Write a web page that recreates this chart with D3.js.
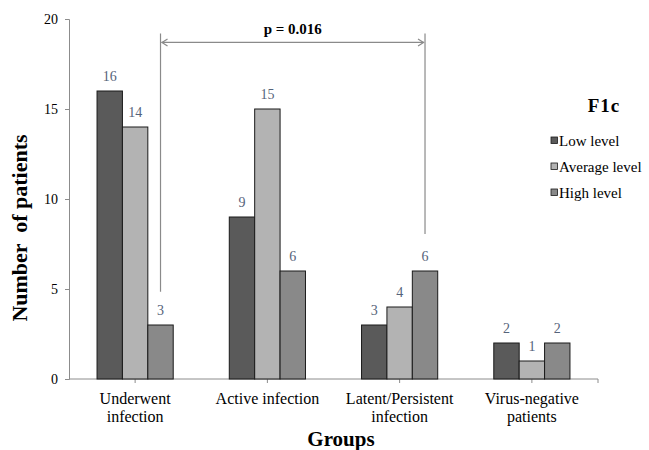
<!DOCTYPE html>
<html>
<head>
<meta charset="utf-8">
<script src="https://cdn.jsdelivr.net/npm/d3@7"></script>
<style>
  html, body { margin: 0; padding: 0; background: #fff; }
  svg { display: block; }
  text { font-family: 'Liberation Serif', 'Tinos', 'DejaVu Serif', serif; }
</style>
</head>
<body>
<svg id="chart" width="649" height="450"></svg>
<script>
// ---- data ----
const categories = [["Underwent", "infection"], ["Active infection"], ["Latent/Persistent", "infection"], ["Virus-negative", "patients"]];
const seriesNames = ["Low level", "Average level", "High level"];
const lowLevel = [16, 9, 3, 2];
const averageLevel = [14, 15, 4, 1];
const highLevel = [3, 6, 6, 2];
const yTicks = [0, 5, 10, 15, 20];
const pLabel = "p = 0.016";
// bracket: from group 0 / series 2 to group 2 / series 2 (values in data units)
const bracketGroups = [0, 2];
const bracketTop = 19.2, bracketArrow = 18.7, bracketLeftBottom = 4.85, bracketRightBottom = 8.05;

const series = [lowLevel, averageLevel, highLevel];
const colors = ["#5a5a5a", "#b3b3b3", "#898989"];
const FONT = "'Liberation Serif', 'Tinos', 'DejaVu Serif', serif";

const svg = d3.select("#chart");
const m = { left: 69, right: 598, top: 19, bottom: 379 };

const x0 = d3.scaleBand().domain(d3.range(categories.length))
  .range([m.left, m.right]).paddingInner(0.424).paddingOuter(0.212);
const x1 = d3.scaleBand().domain(d3.range(series.length)).range([0, x0.bandwidth()]);
const y = d3.scaleLinear().domain([0, 20]).range([m.bottom, m.top]);

const axisColor = "#8c8c8c";

// y axis
const yAxis = d3.axisLeft(y).tickValues(yTicks).tickSize(4).tickPadding(7);
const gy = svg.append("g").attr("transform", `translate(${m.left},0)`).call(yAxis)
  .attr("font-family", FONT);
gy.select(".domain").attr("stroke", axisColor);
gy.selectAll(".tick line").attr("stroke", axisColor);
gy.selectAll(".tick text").style("font-family", FONT).attr("font-size", 14).attr("fill", "#000");

// x axis line + ticks
svg.append("line").attr("x1", m.left).attr("x2", m.right).attr("y1", y(0)).attr("y2", y(0))
  .attr("stroke", axisColor);
const tickXs = d3.range(categories.length).map(i => x0(i) + x0.bandwidth() / 2).concat([m.right]);
svg.selectAll(".xtick").data(tickXs).enter().append("line")
  .attr("x1", d => d).attr("x2", d => d).attr("y1", y(0)).attr("y2", y(0) + 4)
  .attr("stroke", axisColor);

// category labels
categories.forEach((lines, i) => {
  const cx = x0(i) + x0.bandwidth() / 2;
  const t = svg.append("text").attr("x", cx).attr("y", 404).attr("text-anchor", "middle")
    .style("font-family", FONT).attr("font-size", 16).attr("fill", "#000");
  lines.forEach((l, j) => t.append("tspan").attr("x", cx).attr("dy", j === 0 ? 0 : 18).text(l));
});

// bars
series.forEach((vals, s) => {
  svg.selectAll(".bar" + s).data(vals).enter().append("rect")
    .attr("x", (d, i) => x0(i) + x1(s))
    .attr("y", d => y(d))
    .attr("width", x1.bandwidth())
    .attr("height", d => y(0) - y(d))
    .attr("fill", colors[s]).attr("stroke", "#1a1a1a").attr("stroke-width", 1);
  svg.selectAll(".lab" + s).data(vals).enter().append("text")
    .attr("x", (d, i) => x0(i) + x1(s) + x1.bandwidth() / 2)
    .attr("y", d => y(d) - 10)
    .attr("text-anchor", "middle").style("font-family", FONT).attr("font-size", 14).attr("fill", "#55637a")
    .text(d => d);
});

// bracket
const bx = bracketGroups.map(g => x0(g) + x1(2) + x1.bandwidth() / 2);
const bc = "#8a8a8a";
svg.append("line").attr("x1", bx[0]).attr("x2", bx[0]).attr("y1", y(bracketTop)).attr("y2", y(bracketLeftBottom)).attr("stroke", bc).attr("stroke-width", 1.2);
svg.append("line").attr("x1", bx[1]).attr("x2", bx[1]).attr("y1", y(bracketTop)).attr("y2", y(bracketRightBottom)).attr("stroke", bc).attr("stroke-width", 1.2);
const ay = y(bracketArrow);
svg.append("line").attr("x1", bx[0] + 1).attr("x2", bx[1] - 1).attr("y1", ay).attr("y2", ay).attr("stroke", bc).attr("stroke-width", 1.2);
svg.append("path").attr("d", `M${bx[0] + 7},${ay - 3.5} L${bx[0] + 1.5},${ay} L${bx[0] + 7},${ay + 3.5}`)
  .attr("fill", "none").attr("stroke", bc).attr("stroke-width", 1.2);
svg.append("path").attr("d", `M${bx[1] - 7},${ay - 3.5} L${bx[1] - 1.5},${ay} L${bx[1] - 7},${ay + 3.5}`)
  .attr("fill", "none").attr("stroke", bc).attr("stroke-width", 1.2);
svg.append("text").attr("x", (bx[0] + bx[1]) / 2).attr("y", 33.5).attr("text-anchor", "middle")
  .style("font-family", FONT).attr("font-size", 15).attr("font-weight", "bold").attr("fill", "#000").text(pLabel);

// axis titles
svg.append("text").attr("transform", "translate(27,228) rotate(-90)").attr("text-anchor", "middle")
  .style("font-family", FONT).attr("font-size", 22).attr("font-weight", "bold").attr("fill", "#000")
  .style("white-space", "pre").text("Number  of patients");
svg.append("text").attr("x", 341).attr("y", 446).attr("text-anchor", "middle")
  .style("font-family", FONT).attr("font-size", 21).attr("font-weight", "bold").attr("fill", "#000").text("Groups");

// legend
svg.append("text").attr("x", 604).attr("y", 112).attr("text-anchor", "middle")
  .style("font-family", FONT).attr("font-size", 19).attr("font-weight", "bold").attr("letter-spacing", 1).attr("fill", "#000").text("F1c");
const legendY = [146, 172, 198];
seriesNames.forEach((n, s) => {
  svg.append("rect").attr("x", 551).attr("y", legendY[s] - 9).attr("width", 6.5).attr("height", 6.5)
    .attr("fill", colors[s]).attr("stroke", "#1a1a1a").attr("stroke-width", 0.8);
  svg.append("text").attr("x", 559).attr("y", legendY[s]).style("font-family", FONT).attr("font-size", 15).attr("fill", "#000").text(n);
});
</script>
</body>
</html>
